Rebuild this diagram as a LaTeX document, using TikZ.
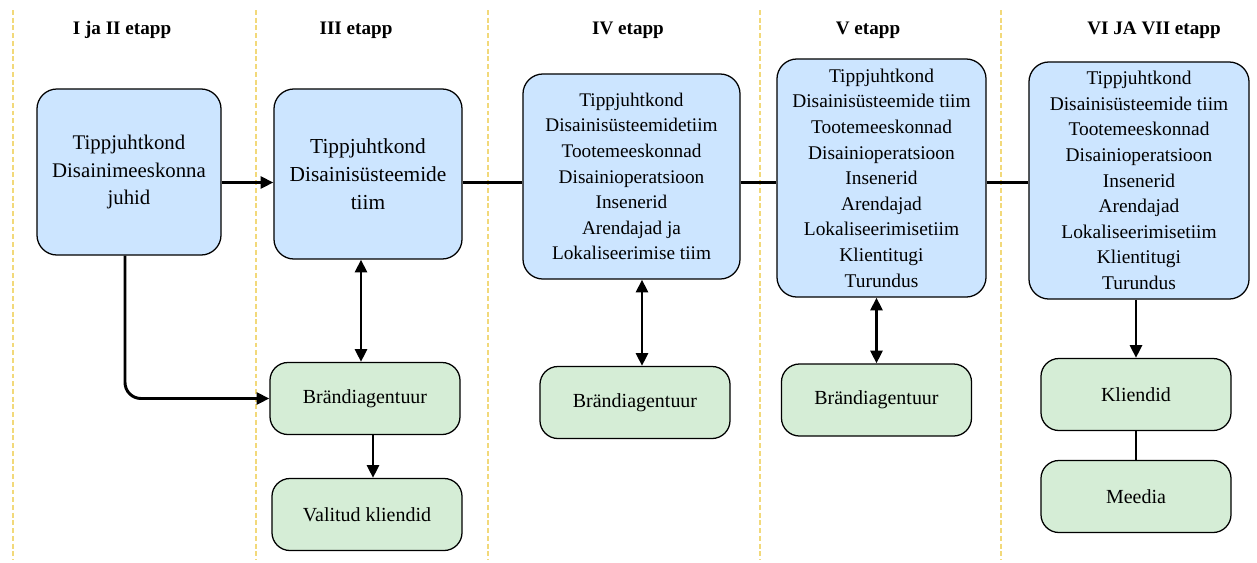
\documentclass[tikz,border=0pt]{standalone}
\usepackage{fontspec}
\setmainfont{Liberation Serif}
\usepackage{xcolor}
\usetikzlibrary{arrows.meta}
\definecolor{teamblue}{HTML}{CCE5FF}
\definecolor{partnergreen}{HTML}{D5EDD6}
\definecolor{stageyellow}{HTML}{F2D97A}

\begin{document}
\begin{tikzpicture}[x = 0.025cm, y = -0.025cm,
  team/.style = {draw, fill = teamblue, rounded corners = 0.5cm, line width = 0.9pt, align = center, inner sep = 0pt},
  partner/.style = {draw, fill = partnergreen, rounded corners = 0.45cm, line width = 0.9pt, align = center,
    minimum width = 4.75cm, minimum height = 1.8cm, font = \fontsize{14.2}{18}\selectfont},
  stagehead/.style = {font = \fontsize{13.6}{16}\selectfont\bfseries},
  link/.style = {line width = 2.1pt},
  onearrow/.style = {link, -{Triangle[length = 0.32cm, width = 0.3cm]}},
  twoarrow/.style = {link, {Triangle[length = 0.32cm, width = 0.3cm]}-{Triangle[length = 0.32cm, width = 0.3cm]}}]
  \useasboundingbox (0, 0) rectangle (1257, 562);
  \foreach \x in {13, 256, 488, 760, 1001}
    \draw [stageyellow, line width = 1.6pt, dash pattern = on 3.5pt off 2pt] (\x, 10) -- (\x, 560);

  \node (head12) [stagehead] at (122, 30) {I ja II etapp};
  \node (head3) [stagehead] at (356, 30) {III etapp};
  \node (head4) [stagehead] at (628, 30) {IV etapp};
  \node (head5) [stagehead] at (868, 30) {V etapp};
  \node (head67) [stagehead] at (1154, 30) {VI JA VII etapp};

  \node (lead) [team, minimum width = 4.6cm, minimum height = 4.15cm, font = \fontsize{14.8}{19.5}\selectfont]
    at (129, 172) {Tippjuhtkond\\Disainimeeskonna\\juhid};
  \node (sys3) [team, minimum width = 4.7cm, minimum height = 4.25cm, font = \fontsize{15.2}{20}\selectfont]
    at (368, 174) {Tippjuhtkond\\Disainisüsteemide\\tiim};
  \node (ops4) [team, minimum width = 5.425cm, minimum height = 5.125cm, font = \fontsize{13.7}{18.2}\selectfont]
    at (631.5, 176.5) {Tippjuhtkond\\Disainisüsteemidetiim\\Tootemeeskonnad\\Disainioperatsioon\\Insenerid\\Arendajad ja\\Lokaliseerimise tiim};
  \node (ops5) [team, minimum width = 5.225cm, minimum height = 5.95cm, font = \fontsize{13.8}{18.2}\selectfont]
    at (881.5, 178) {Tippjuhtkond\\Disainisüsteemide tiim\\Tootemeeskonnad\\Disainioperatsioon\\Insenerid\\Arendajad\\Lokaliseerimisetiim\\Klientitugi\\Turundus};
  \node (ops67) [team, minimum width = 5.5cm, minimum height = 5.925cm, font = \fontsize{13.8}{18.2}\selectfont]
    at (1139, 180.5) {Tippjuhtkond\\Disainisüsteemide tiim\\Tootemeeskonnad\\Disainioperatsioon\\Insenerid\\Arendajad\\Lokaliseerimisetiim\\Klientitugi\\Turundus};

  \node (agency3) [partner] at (365, 398.5) {Brändiagentuur};
  \node (chosen3) [partner] at (367, 514.5) {Valitud kliendid};
  \node (agency4) [partner] at (635, 402.5) {Brändiagentuur};
  \node (agency5) [partner] at (876.5, 400) {Brändiagentuur};
  \node (clients67) [partner] at (1136, 394.5) {Kliendid};
  \node (media67) [partner] at (1136, 496.5) {Meedia};

  \coordinate (row) at (0, 182.5);
  \draw [onearrow] (lead.east |- row) -- (sys3.west |- row);
  \draw [link] (sys3.east |- row) -- (ops4.west |- row);
  \draw [link] (ops4.east |- row) -- (ops5.west |- row);
  \draw [link] (ops5.east |- row) -- (ops67.west |- row);
  \draw [onearrow, rounded corners = 0.4cm] ([xshift = -0.1cm]lead.south) |- (agency3.west);
  \draw [twoarrow] ([xshift = -0.1cm]agency3.north) -- ([xshift = -0.1cm]agency3.north |- sys3.south);
  \draw [onearrow] ([xshift = 0.2cm]agency3.south) -- ([xshift = 0.2cm]agency3.south |- chosen3.north);
  \draw [twoarrow] ([xshift = 0.175cm]agency4.north) -- ([xshift = 0.175cm]agency4.north |- ops4.south);
  \draw [twoarrow] (agency5.north) -- (agency5.north |- ops5.south);
  \draw [onearrow] (clients67.north |- ops67.south) -- (clients67.north);
  \draw [link] (clients67) -- (media67);
\end{tikzpicture}
\end{document}
